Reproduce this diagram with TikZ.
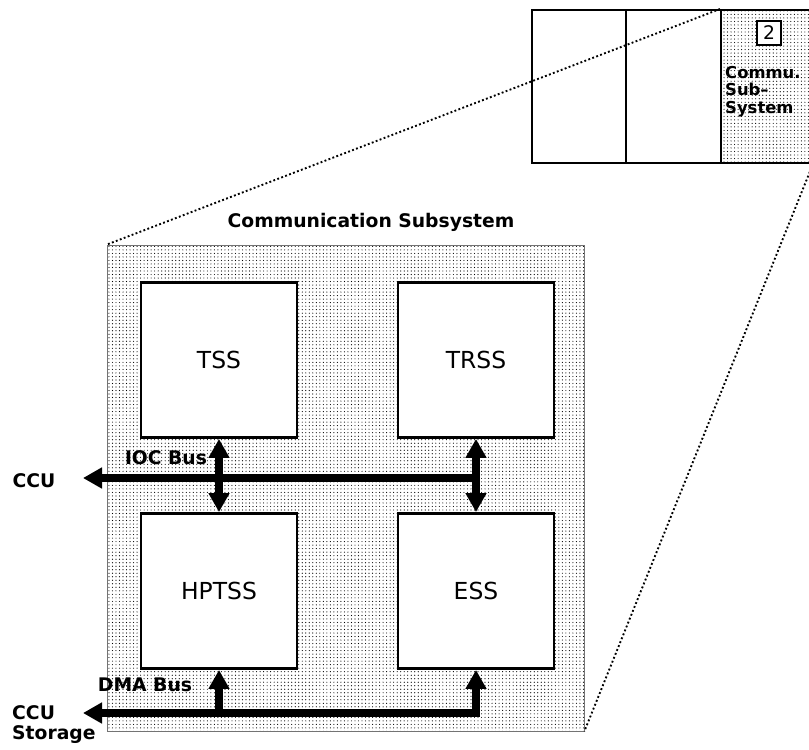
\documentclass[tikz,border=0pt]{standalone}
\usepackage{fontspec}
\setmainfont{DejaVu Sans}
\usetikzlibrary{arrows.meta,patterns}
\tikzset{
	bustip/.tip={Triangle[length=5.7mm,width=6mm]},
	busline/.style={draw=black,line width=7.6pt},
	busarrow/.style={busline,-bustip},
	busboth/.style={busline,bustip-bustip},
	subbox/.style={draw=black,line width=2.5pt,fill=white,minimum width=4.68cm,minimum height=4.65cm,
		inner sep=0pt,font=\fontsize{20}{22}\selectfont},
	segbox/.style={draw=black,line width=1.7pt,minimum height=4.59cm,inner sep=0pt},
	shade/.style={pattern=dots,pattern color=black},
	zoomline/.style={draw=black,line width=1.6pt,dash pattern=on 1.6pt off 2pt},
	lbl/.style={inner sep=0pt,font=\fontsize{16}{17}\selectfont\bfseries}
}
\begin{document}
\begin{tikzpicture}[x=0.03cm,y=-0.03cm]
	\useasboundingbox (0,0) rectangle (809,749);

	% overview strip at the top
	\node[segbox,minimum width=2.82cm] (seg1) at (579,86.5) {};
	\node[segbox,minimum width=2.85cm] (seg2) at (673.5,86.5) {};
	\node[segbox,shade,minimum width=2.73cm] (commu) at (766.5,86.5) {};
	\node[draw=black,line width=1.3pt,fill=white,minimum size=0.72cm,inner sep=0pt,
		font=\fontsize{16}{17}\selectfont] (num) at (769,33) {2};
	\node[lbl,anchor=north west,align=left,font=\fontsize{14}{15}\selectfont\bfseries]
		(commutxt) at (725,66) {Commu.\\Sub–\\System};

	% zoomed subsystem
	\node[draw=black!55,line width=0.6pt,shade,minimum width=14.31cm,minimum height=14.58cm,
		inner sep=0pt] (csys) at (345.5,488) {};
	\node[lbl] (title) at (371,222) {Communication Subsystem};

	\draw[zoomline] (commu.north west) -- (csys.north west);
	\draw[zoomline] (commu.south east) -- (csys.south east);

	\foreach \n/\t/\p in {tss/TSS/{(219,360)},trss/TRSS/{(476,360)},
		hptss/HPTSS/{(219,591)},ess/ESS/{(476,591)}}
	\node[subbox] (\n) at \p {\t};

	% buses
	\coordinate (ccutip) at (83,478);
	\coordinate (storetip) at (83,713);
	\node[lbl] (ccu) at (34,481) {CCU};
	\node[lbl,anchor=north west,align=left] (store) at (12,705) {CCU\\Storage};
	\node[lbl] (ioc) at (166,458) {IOC Bus};
	\node[lbl] (dma) at (145,685) {DMA Bus};

	\draw[busarrow] (trss.south |- ccutip) -- (ccutip);
	\draw[busboth] (tss.south) -- (hptss.north);
	\draw[busboth] (trss.south) -- (ess.north);
	\draw[busboth] (storetip) -- (ess.south |- storetip) -- (ess.south);
	\draw[busarrow] (hptss.south |- storetip) -- (hptss.south);
\end{tikzpicture}
\end{document}
